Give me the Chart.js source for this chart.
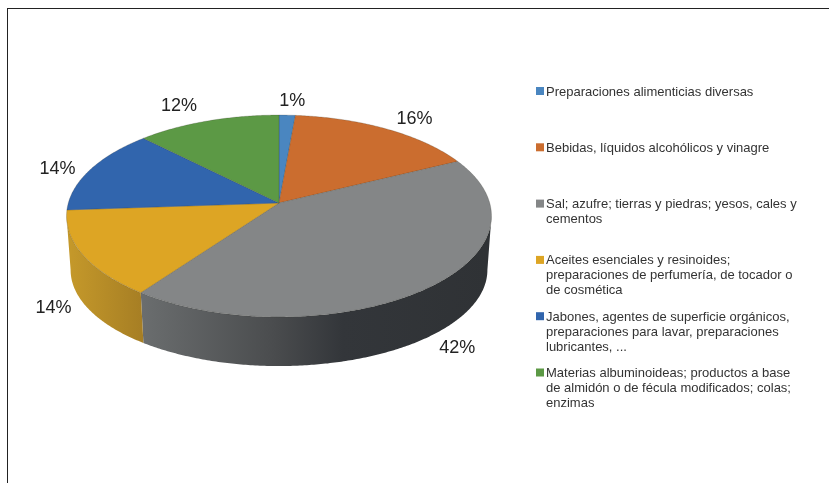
<!DOCTYPE html>
<html><head><meta charset="utf-8">
<style>
html,body{margin:0;padding:0;background:#fff;}
#wrap{position:absolute;left:0;top:0;width:829px;height:483px;overflow:hidden;background:#fff;}
#frame{position:absolute;left:7px;top:8px;width:830px;height:490px;border:1px solid #222;box-sizing:border-box;}
canvas{position:absolute;left:0;top:0;}
</style>
<script src="https://cdn.jsdelivr.net/npm/chart.js@4/dist/chart.umd.js"></script>
</head><body>
<div id="wrap"><div id="frame"></div><canvas id="c" width="829" height="483"></canvas></div>
<script>
const categories = [
  ["Preparaciones alimenticias diversas"],
  ["Bebidas, líquidos alcohólicos y vinagre"],
  ["Sal; azufre; tierras y piedras; yesos, cales y","cementos"],
  ["Aceites esenciales y resinoides;","preparaciones de perfumería, de tocador o","de cosmética"],
  ["Jabones, agentes de superficie orgánicos,","preparaciones para lavar, preparaciones","lubricantes, ..."],
  ["Materias albuminoideas; productos a base","de almidón o de fécula modificados; colas;","enzimas"]
];
const shares = [1.4, 16.3, 42.3, 13.9, 13.7, 12.4];
const colors = ["#4a86c0","#cb6d2f","#848687","#dda524","#3165ad","#5c9945"];
const labelOffsets = [[5,-14],[28,-10],[27.5,61],[-29,54],[-33,-0.5],[-28.6,-15]];

const K = 0.1287;            // perspective strength
const RX = 1.038, RY = 0.489, RXB = 1.018, RYB = 0.465, DROP = 54.7;

function rim(el, th, bottom){
  const d = 1 + K*Math.cos(th), R = el.outerRadius;
  const rx = (bottom?RXB:RX)*R, ry = (bottom?RYB:RY)*R, cy = el.y + (bottom?DROP:0);
  return [el.x + rx*Math.sin(th)/d, cy - ry*Math.cos(th)/d];
}
const theta = a => a + Math.PI/2;

function sidePath(ctx, el, a, b){
  const n = Math.max(2, Math.ceil((b-a)/0.01));
  ctx.beginPath();
  for(let i=0;i<=n;i++){const p=rim(el,a+(b-a)*i/n,false); i?ctx.lineTo(p[0],p[1]):ctx.moveTo(p[0],p[1]);}
  for(let i=n;i>=0;i--){const p=rim(el,a+(b-a)*i/n,true); ctx.lineTo(p[0],p[1]);}
  ctx.closePath();
}

const pie3d = {
  id:'pie3d',
  beforeDatasetDraw(chart, args){
    const ctx = chart.ctx, els = args.meta.data;
    const thR = Math.acos(-K), thL = 2*Math.PI - thR;
    // sides
    els.forEach((el,i)=>{
      const a = Math.max(theta(el.startAngle), thR), b = Math.min(theta(el.endAngle), thL);
      if(b<=a) return;
      const g = ctx.createLinearGradient(rim(el,a,true)[0],0,rim(el,b,true)[0],0);
      if(i===2){
        // runs from right to left around the front
        g.addColorStop(0,'#2f3235'); g.addColorStop(0.42,'#33363a'); g.addColorStop(0.62,'#4a4c4e');
        g.addColorStop(1,'#6a6d6e');
      } else {
        g.addColorStop(0,'#a67e24'); g.addColorStop(1,'#c4982a');
      }
      ctx.save(); ctx.fillStyle=g; sidePath(ctx,el,a,b); ctx.fill(); ctx.restore();
    });
    // top faces
    els.forEach((el,i)=>{
      const a = theta(el.startAngle), b = theta(el.endAngle);
      const n = Math.max(2, Math.ceil((b-a)/0.01));
      ctx.save();
      ctx.beginPath(); ctx.moveTo(el.x,el.y);
      for(let j=0;j<=n;j++){const p=rim(el,a+(b-a)*j/n,false); ctx.lineTo(p[0],p[1]);}
      ctx.closePath();
      ctx.fillStyle=colors[i]; ctx.fill();
      ctx.strokeStyle='rgba(50,50,40,0.35)'; ctx.lineWidth=0.6; ctx.stroke();
      ctx.restore();
    });
    // percentage labels
    const total = shares.reduce((s,v)=>s+v,0);
    ctx.save();
    ctx.font='18px "Liberation Sans"'; ctx.fillStyle='#222'; ctx.textAlign='center'; ctx.textBaseline='middle';
    els.forEach((el,i)=>{
      const p = rim(el,(theta(el.startAngle)+theta(el.endAngle))/2,false);
      ctx.fillText(Math.round(shares[i]/total*100)+'%', p[0]+labelOffsets[i][0], p[1]+labelOffsets[i][1]);
    });
    ctx.restore();
    return false;
  },
  afterDraw(chart){
    const ctx = chart.ctx, x0=536, tx=546, y0=91, step=56.3, lh=15;
    ctx.save();
    ctx.font='13px "Liberation Sans"'; ctx.textAlign='left'; ctx.textBaseline='middle';
    categories.forEach((lines,i)=>{
      const y=y0+step*i;
      ctx.fillStyle=colors[i]; ctx.fillRect(x0,y-4,8,8);
      ctx.fillStyle='#333';
      lines.forEach((t,j)=>ctx.fillText(t,tx,y+1+lh*j));
    });
    ctx.restore();
  }
};

new Chart(document.getElementById('c'),{
  type:'pie',
  data:{labels:categories.map(l=>l.join(' ')),datasets:[{data:shares,backgroundColor:colors,borderWidth:0}]},
  options:{
    responsive:false,animation:false,
    layout:{padding:{left:76,right:347,top:0,bottom:77}},
    plugins:{legend:{display:false},tooltip:{enabled:false}}
  },
  plugins:[pie3d]
});
</script>
</body></html>
